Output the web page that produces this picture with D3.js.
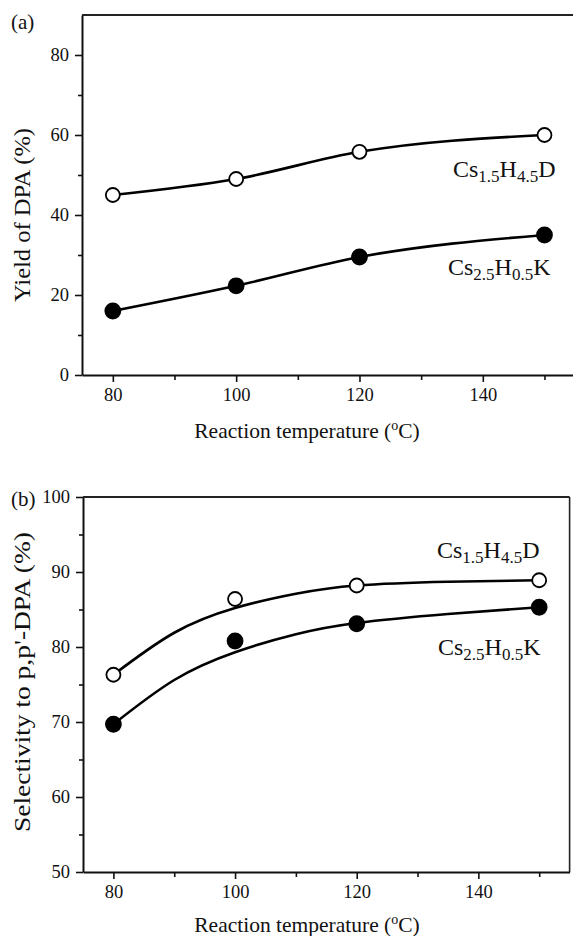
<!DOCTYPE html>
<html>
<head>
<meta charset="utf-8">
<script src="https://cdn.jsdelivr.net/npm/d3@7"></script>
<style>
  html, body { margin: 0; padding: 0; background: #fff; }
  svg { display: block; }
  text { font-family: "Liberation Serif", "Times New Roman", serif; fill: #111; }
</style>
</head>
<body>
<svg id="chart" width="573" height="936"></svg>
<script>
// ---------- data ----------
const temps = [80, 100, 120, 150];
const yieldD = [45, 49, 55.8, 60];      // Cs1.5H4.5D (open)
const yieldK = [16, 22.3, 29.5, 35];    // Cs2.5H0.5K (filled)
const selD = [76.3, 86.4, 88.2, 88.9];  // Cs1.5H4.5D (open)
const selK = [69.7, 80.8, 83.1, 85.3];  // Cs2.5H0.5K (filled)
// fitted curves drawn in panel (b)
const fitTemps = [80, 90, 100, 110, 120, 135, 150];
const selFitD = [76.3, 81.9, 85.2, 87.1, 88.2, 88.7, 88.9];
const selFitK = [69.7, 75.6, 79.3, 81.7, 83.2, 84.4, 85.3];

const xMajor = [80, 100, 120, 140];
const xMinor = [90, 110, 130, 150];
const yMajorA = [0, 20, 40, 60, 80];
const yMinorA = [10, 30, 50, 70];
const yMajorB = [50, 60, 70, 80, 90, 100];
const yMinorB = [55, 65, 75, 85, 95];

const svg = d3.select("#chart");

function addFormula(g, x, y, parts) {
  const t = g.append("text").attr("x", x).attr("y", y).attr("font-size", 24);
  parts.forEach((p, i) => {
    if (i % 2 === 0) {
      t.append("tspan").attr("dy", i === 0 ? 0 : -5).text(p);
    } else {
      t.append("tspan").attr("dy", 5).attr("font-size", 17).text(p);
    }
  });
}

function xTitle(g, cx, y) {
  const t = g.append("text").attr("x", cx).attr("y", y)
    .attr("text-anchor", "middle").attr("font-size", 21.5);
  t.append("tspan").text("Reaction temperature (");
  t.append("tspan").attr("font-size", 14).attr("dy", -8).text("o");
  t.append("tspan").attr("dy", 8).text("C)");
}

function panel(opts) {
  const g = svg.append("g");
  const x = d3.scaleLinear().domain([75, 155]).range(opts.xRange);
  const y = d3.scaleLinear().domain(opts.yDomain).range(opts.yRange);
  const y0 = opts.yRange[0];
  const x0 = opts.xRange[0];

  g.append("g").attr("transform", `translate(0,${y0})`)
    .call(d3.axisBottom(x).tickValues(xMinor).tickSize(5).tickFormat("").tickSizeOuter(0))
    .call(a => a.select(".domain").remove());
  g.append("g").attr("transform", `translate(${x0},0)`)
    .call(d3.axisLeft(y).tickValues(opts.yMinor).tickSize(4).tickFormat("").tickSizeOuter(0))
    .call(a => a.select(".domain").remove());

  const xa = g.append("g").attr("transform", `translate(0,${y0})`)
    .call(d3.axisBottom(x).tickValues(xMajor).tickSize(7).tickPadding(6).tickSizeOuter(0));
  const ya = g.append("g").attr("transform", `translate(${x0},0)`)
    .call(d3.axisLeft(y).tickValues(opts.yMajor).tickSize(7).tickPadding(6).tickSizeOuter(0));
  [xa, ya].forEach(a => {
    a.selectAll("text").attr("font-size", 18.5).attr("font-family", "Liberation Serif").attr("fill", "#111");
  });
  g.selectAll(".domain").attr("stroke", "#111").attr("stroke-width", 2);
  g.selectAll(".tick line").attr("stroke", "#111").attr("stroke-width", 1.6);

  g.append("line").attr("x1", x0).attr("x2", opts.xRange[1])
    .attr("y1", opts.yRange[1]).attr("y2", opts.yRange[1])
    .attr("stroke", "#222").attr("stroke-width", 1.8);
  if (opts.rightFrame) {
    g.append("line").attr("x1", opts.xRange[1]).attr("x2", opts.xRange[1])
      .attr("y1", opts.yRange[1]).attr("y2", y0)
      .attr("stroke", "#222").attr("stroke-width", 1.6);
  }

  opts.curves.forEach(c => {
    const line = d3.line().x(d => x(d[0])).y(d => y(d[1])).curve(c.curve);
    g.append("path").attr("d", line(c.xs.map((v, i) => [v, c.ys[i]])))
      .attr("fill", "none").attr("stroke", "#000").attr("stroke-width", 2.6);
  });
  opts.series.forEach(s => {
    g.append("g").selectAll("circle").data(temps.map((t, i) => [t, s.ys[i]]))
      .join("circle")
      .attr("cx", d => x(d[0])).attr("cy", d => y(d[1]))
      .attr("r", s.filled ? 7.5 : 7)
      .attr("fill", s.filled ? "#000" : "#fff")
      .attr("stroke", "#000").attr("stroke-width", 1.8);
  });

  g.append("text").attr("x", 11).attr("y", opts.labelY).attr("font-size", 21).text(opts.label);
  g.append("text").attr("transform", `translate(30,${opts.yTitleC}) rotate(-90)`)
    .attr("text-anchor", "middle").attr("font-size", 24)
    .attr("textLength", opts.yTitleLen).attr("lengthAdjust", "spacingAndGlyphs")
    .text(opts.yTitle);
  xTitle(g, opts.xTitleC, opts.xTitleY);
  opts.formulas.forEach(f => addFormula(g, f.x, f.y, f.parts));
}

panel({
  xRange: [82, 575.3], yDomain: [0, 90], yRange: [375, 15],
  yMajor: yMajorA, yMinor: yMinorA, rightFrame: false,
  curves: [{ xs: temps, ys: yieldD, curve: d3.curveMonotoneX }, { xs: temps, ys: yieldK, curve: d3.curveMonotoneX }],
  series: [{ ys: yieldD, filled: false }, { ys: yieldK, filled: true }],
  label: "(a)", labelY: 29,
  yTitle: "Yield of DPA (%)", yTitleC: 215, yTitleLen: 174,
  xTitleC: 307, xTitleY: 438,
  formulas: [
    { x: 453, y: 177, parts: ["Cs", "1.5", "H", "4.5", "D"] },
    { x: 448, y: 275, parts: ["Cs", "2.5", "H", "0.5", "K"] }
  ]
});

panel({
  xRange: [83, 569.6], yDomain: [50, 100], yRange: [872, 497],
  yMajor: yMajorB, yMinor: yMinorB, rightFrame: true,
  curves: [{ xs: fitTemps, ys: selFitD, curve: d3.curveNatural }, { xs: fitTemps, ys: selFitK, curve: d3.curveNatural }],
  series: [{ ys: selD, filled: false }, { ys: selK, filled: true }],
  label: "(b)", labelY: 506,
  yTitle: "Selectivity to p,p'-DPA (%)", yTitleC: 682, yTitleLen: 300,
  xTitleC: 307, xTitleY: 932,
  formulas: [
    { x: 437, y: 558, parts: ["Cs", "1.5", "H", "4.5", "D"] },
    { x: 438, y: 655, parts: ["Cs", "2.5", "H", "0.5", "K"] }
  ]
});
</script>
</body>
</html>
